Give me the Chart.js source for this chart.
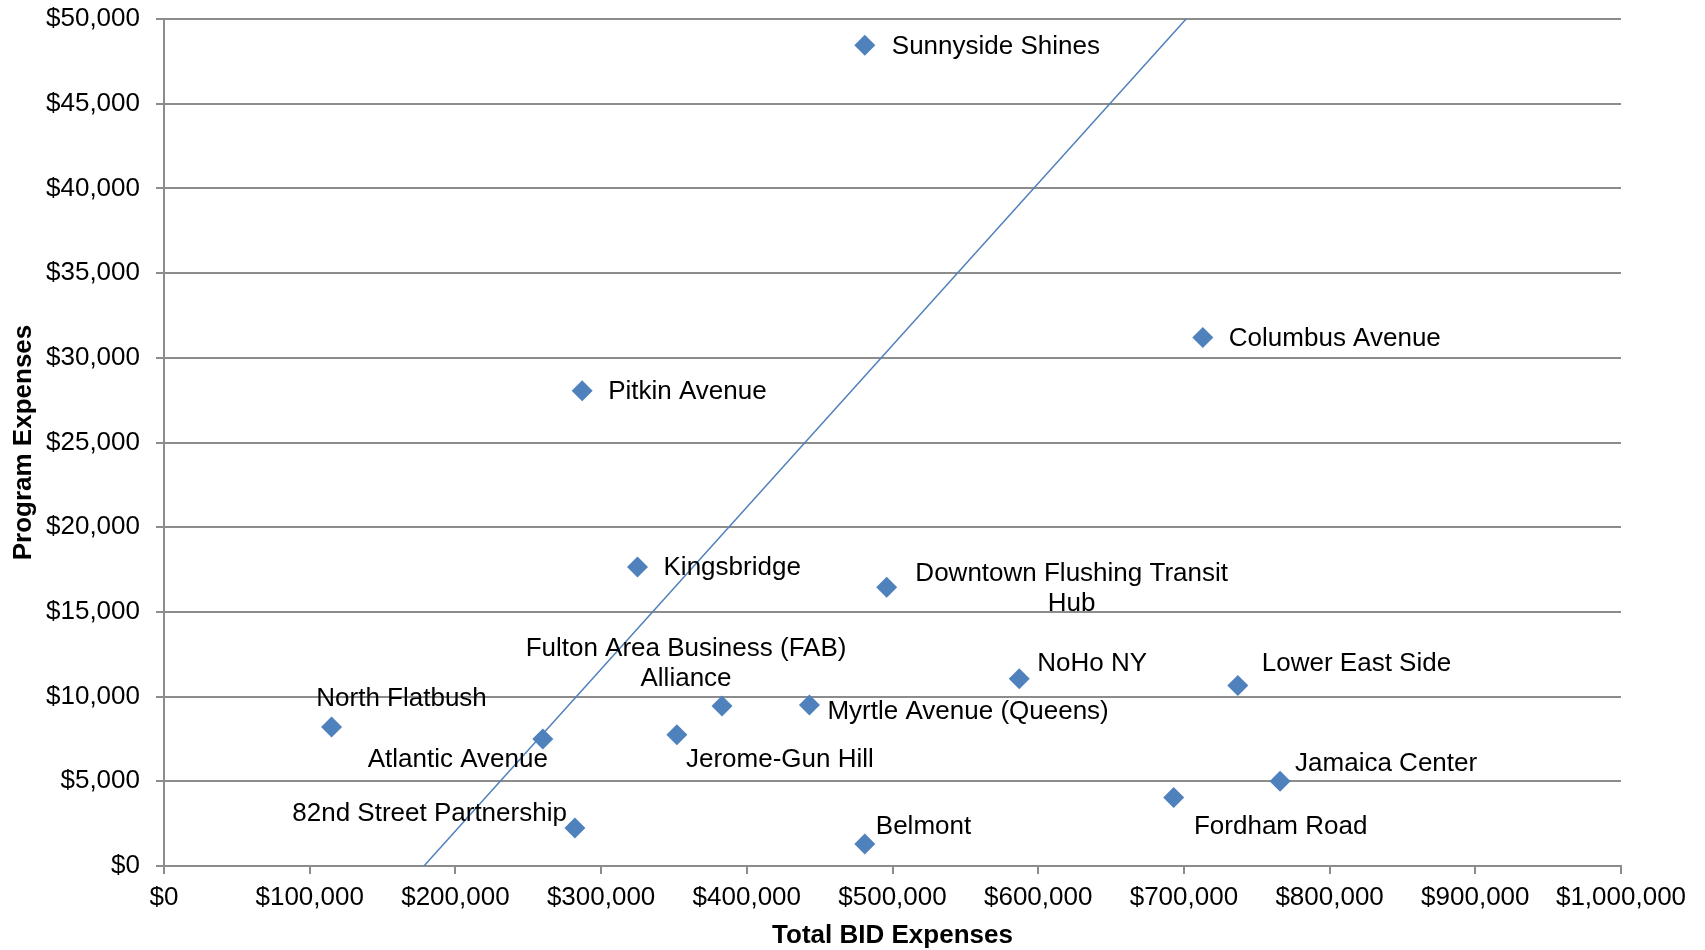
<!DOCTYPE html>
<html>
<head>
<meta charset="utf-8">
<script src="https://cdn.jsdelivr.net/npm/chart.js@4.4.1/dist/chart.umd.min.js"></script>
<style>
  html, body { margin: 0; padding: 0; background: #fff; }
</style>
</head>
<body>
<canvas id="grafico" width="1705" height="950"></canvas>
<script>
// BIDs, total expenses vs program expenses
const bids = [
  'Sunnyside Shines', 'Columbus Avenue', 'Pitkin Avenue', 'Kingsbridge',
  'Downtown Flushing Transit Hub', 'NoHo NY', 'Lower East Side',
  'Fulton Area Business (FAB) Alliance', 'Myrtle Avenue (Queens)', 'North Flatbush',
  'Jerome-Gun Hill', 'Atlantic Avenue', 'Jamaica Center', 'Fordham Road',
  '82nd Street Partnership', 'Belmont'
]
const totalBid = [481000, 713000, 287000, 325000, 496000, 587000, 737000, 383000, 443000, 115000, 352000, 260000, 766000, 693000, 282000, 481000]
const programExp = [48450, 31200, 28050, 17650, 16450, 11050, 10650, 9450, 9500, 8200, 7750, 7500, 5000, 4050, 2250, 1300]

// trendline (two ends)
const trendX = [178400, 701500]
const trendY = [0, 50000]

const xTicks = [0, 100000, 200000, 300000, 400000, 500000, 600000, 700000, 800000, 900000, 1000000]
const yTicks = [0, 5000, 10000, 15000, 20000, 25000, 30000, 35000, 40000, 45000, 50000]

// where each label sits next to its point: [align, dx, dy, words on first line]
const spots = {
  'Sunnyside Shines': ['left', 27, 2],
  'Columbus Avenue': ['left', 26, 1],
  'Pitkin Avenue': ['left', 26, 1],
  'Kingsbridge': ['left', 26, 1],
  'Downtown Flushing Transit Hub': ['center', 185, 1, 3],
  'NoHo NY': ['left', 18, -15],
  'Lower East Side': ['left', 24, -22],
  'Fulton Area Business (FAB) Alliance': ['center', -36, -42, 4],
  'Myrtle Avenue (Queens)': ['left', 18, 7],
  'North Flatbush': ['center', 70, -28],
  'Jerome-Gun Hill': ['center', 103, 25],
  'Atlantic Avenue': ['center', -85, 21],
  'Jamaica Center': ['left', 15, -17],
  'Fordham Road': ['center', 107, 29],
  '82nd Street Partnership': ['right', -8, -14],
  'Belmont': ['left', 11, -17]
}

const fonte = 'Liberation Sans, Arial, Helvetica, sans-serif'
const cinza = '#8c8c8c'
const azul = '#4f81bd'

const dinheiro = v => '$' + Number(v).toLocaleString('en-US')

const rotulos = {
  id: 'rotulos',
  afterDatasetsDraw(chart) {
    const c = chart.ctx
    const meta = chart.getDatasetMeta(1)
    c.save()
    c.font = '26px ' + fonte
    c.fillStyle = '#000'
    c.textBaseline = 'middle'
    meta.data.forEach((pt, i) => {
      const nome = bids[i]
      const s = spots[nome]
      let linhas = [nome]
      if (s[3]) {
        const w = nome.split(' ')
        linhas = [w.slice(0, s[3]).join(' '), w.slice(s[3]).join(' ')]
      }
      c.textAlign = s[0]
      const lh = 30
      const y0 = pt.y + s[2] - (linhas.length - 1) * lh / 2
      linhas.forEach((l, k) => c.fillText(l, pt.x + s[1], y0 + k * lh))
    })
    c.restore()
  }
}

const ctx = document.getElementById('grafico')

new Chart(ctx, {
  type: 'scatter',
  data: {
    datasets: [{
      type: 'line',
      label: 'trend',
      data: trendX.map((x, i) => ({ x: x, y: trendY[i] })),
      borderColor: azul,
      borderWidth: 1.5,
      pointRadius: 0,
      fill: false
    }, {
      label: 'BIDs',
      data: totalBid.map((x, i) => ({ x: x, y: programExp[i] })),
      pointStyle: 'rectRot',
      pointRadius: 10.5,
      backgroundColor: azul,
      borderColor: azul,
      borderWidth: 0
    }]
  },
  options: {
    responsive: false,
    animation: false,
    devicePixelRatio: 1,
    layout: { padding: { top: 19, right: 84, left: 0, bottom: 0 } },
    plugins: { legend: { display: false }, tooltip: { enabled: false } },
    scales: {
      x: {
        type: 'linear',
        min: 0,
        max: 1000000,
        afterFit: s => { s.height = 84 },
        afterBuildTicks: s => { s.ticks = xTicks.map(v => ({ value: v })) },
        ticks: {
          autoSkip: false,
          maxRotation: 0,
          padding: 8,
          color: '#000',
          font: { family: fonte, size: 26 },
          callback: v => dinheiro(v)
        },
        grid: { drawOnChartArea: false, drawTicks: true, tickLength: 8, color: cinza, lineWidth: 2 },
        border: { display: true, color: cinza, width: 2 },
        title: {
          display: true,
          text: 'Total BID Expenses',
          color: '#000',
          font: { family: fonte, size: 26, weight: 'bold', lineHeight: 1.1 },
          padding: { top: 0, bottom: 0 }
        }
      },
      y: {
        type: 'linear',
        min: 0,
        max: 50000,
        afterFit: s => { s.width = 164; s.paddingTop = 0; s.paddingBottom = 0 },
        afterBuildTicks: s => { s.ticks = yTicks.map(v => ({ value: v })) },
        ticks: {
          autoSkip: false,
          padding: 16,
          color: '#000',
          font: { family: fonte, size: 26 },
          callback: v => dinheiro(v)
        },
        grid: { drawTicks: true, tickLength: 8, color: cinza, lineWidth: 2 },
        border: { display: true, color: cinza, width: 2 },
        title: {
          display: true,
          text: 'Program Expenses',
          color: '#000',
          font: { family: fonte, size: 26, weight: 'bold' },
          padding: { top: 8, bottom: 0 }
        }
      }
    }
  },
  plugins: [rotulos]
})
</script>
</body>
</html>
